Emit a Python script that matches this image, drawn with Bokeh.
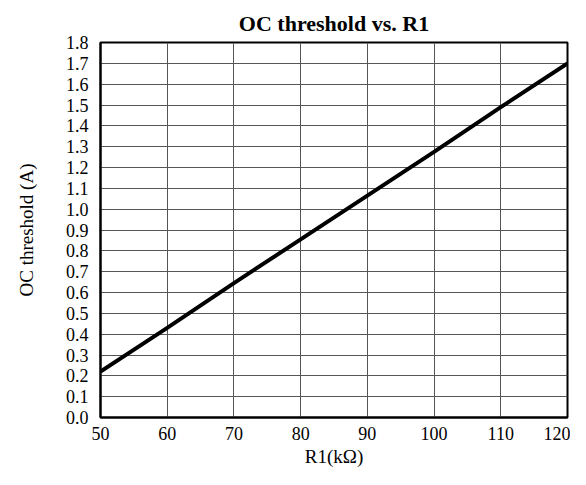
from bokeh.plotting import figure
from bokeh.models import Range1d, FixedTicker, PrintfTickFormatter
from bokeh.embed import file_html
from bokeh.resources import INLINE

# Data
r1_kohm = [50, 60, 70, 80, 90, 100, 110, 120]
oc_threshold_a = [0.22, 0.43, 0.645, 0.855, 1.065, 1.275, 1.49, 1.70]

x_ticks = [50, 60, 70, 80, 90, 100, 110, 120]
y_ticks = [round(0.1 * i, 1) for i in range(19)]

FONT = "Liberation Serif"

p = figure(
    width=570, height=469,
    output_backend="svg", toolbar_location=None,
    x_range=Range1d(50, 120), y_range=Range1d(0, 1.8),
    min_border_left=100, min_border_right=3,
    min_border_top=42, min_border_bottom=50,
    title="OC threshold vs. R1",
)

p.title.text_font = FONT
p.title.text_font_size = "22px"
p.title.text_font_style = "bold"
p.title.align = "center"
p.title.text_color = "black"
p.title.standoff = 14

p.line(r1_kohm, oc_threshold_a, line_color="black", line_width=4)

p.outline_line_color = "black"
p.outline_line_width = 2
p.outline_line_alpha = 1.0

for ax in (p.xaxis[0], p.yaxis[0]):
    ax.axis_line_color = "black"
    ax.axis_line_width = 2
    ax.major_tick_line_color = None
    ax.minor_tick_line_color = None
    ax.major_label_text_font = FONT
    ax.major_label_text_font_size = "18px"
    ax.major_label_text_color = "black"
    ax.axis_label_text_font = FONT
    ax.axis_label_text_font_size = "19px"
    ax.axis_label_text_font_style = "normal"
    ax.axis_label_text_color = "black"

p.xaxis.ticker = FixedTicker(ticks=x_ticks)
p.yaxis.ticker = FixedTicker(ticks=y_ticks)
p.yaxis.formatter = PrintfTickFormatter(format="%.1f")
p.xaxis.major_label_standoff = 3
p.yaxis.major_label_standoff = 6
p.xaxis.axis_label = "R1(kΩ)"
p.yaxis.axis_label = "OC threshold (A)"
p.xaxis.axis_label_standoff = 3
p.yaxis.axis_label_standoff = 26

p.xgrid.ticker = FixedTicker(ticks=x_ticks)
p.ygrid.ticker = FixedTicker(ticks=y_ticks)
p.grid.grid_line_color = "#555555"
p.grid.grid_line_width = 1
p.grid.grid_line_alpha = 1.0

p.background_fill_color = "white"
p.border_fill_color = "white"

open("out.html", "w").write(file_html(p, INLINE))
